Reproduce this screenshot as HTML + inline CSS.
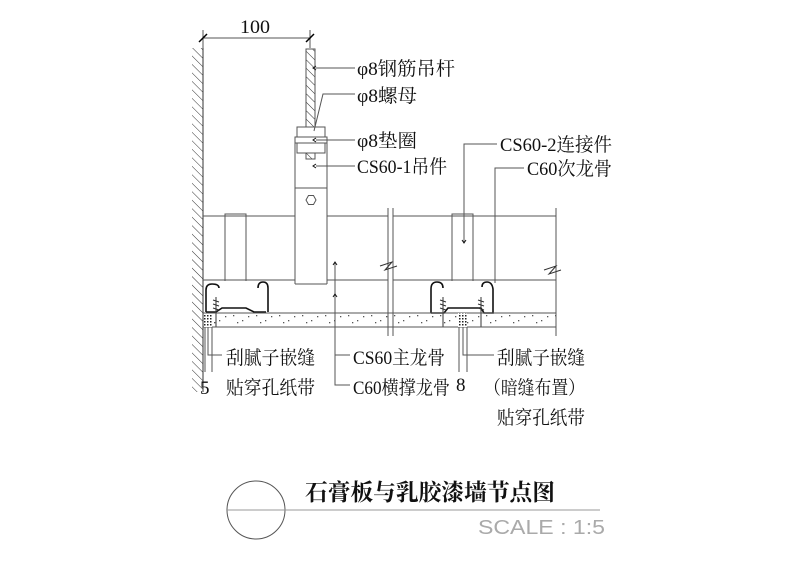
<!DOCTYPE html>
<html><head><meta charset="utf-8"><style>
html,body{margin:0;padding:0;background:#fff;}
svg{display:block}
text{font-family:"Liberation Serif","Noto Serif CJK SC","Noto Sans CJK SC",serif;fill:#111}
</style></head><body>
<svg width="800" height="565" viewBox="0 0 800 565" xmlns="http://www.w3.org/2000/svg">
<defs>
<pattern id="h" width="6" height="6" patternUnits="userSpaceOnUse" patternTransform="rotate(-45)">
<line x1="0" y1="0" x2="0" y2="6" stroke="#333" stroke-width="1"/></pattern>
<pattern id="d" width="3" height="3" patternUnits="userSpaceOnUse">
<rect width="3" height="3" fill="#fff"/><rect width="1.5" height="1.5" fill="#222"/></pattern>
<pattern id="sp" width="23" height="13" patternUnits="userSpaceOnUse">
<rect x="3" y="3" width="1.3" height="1.3" fill="#555"/><rect x="12" y="8" width="1.3" height="1.3" fill="#555"/><rect x="18" y="4" width="1.3" height="1.3" fill="#555"/><rect x="7" y="10" width="1.3" height="1.3" fill="#555"/></pattern>
</defs>
<g stroke="#555" stroke-width="1" fill="none">
<!-- wall -->
<line x1="203" y1="48" x2="203" y2="392" stroke="#333"/>
<rect x="192" y="48" width="11" height="344" fill="url(#h)" stroke="none"/>
<!-- dimension 100 -->
<line x1="203" y1="38" x2="311" y2="38"/>
<line x1="203" y1="30" x2="203" y2="48"/>
<line x1="310" y1="30" x2="310" y2="48"/>
<line x1="199" y1="42" x2="207" y2="34" stroke="#000" stroke-width="1.5"/>
<line x1="306" y1="42" x2="314" y2="34" stroke="#000" stroke-width="1.5"/>
<!-- rod -->
<rect x="306" y="49" width="9" height="88" fill="url(#h)"/>
<!-- nut & washer -->
<rect x="297" y="127" width="28" height="26" fill="#fff"/>
<rect x="295" y="137" width="32" height="6" fill="#fff"/>
<rect x="306" y="153" width="9" height="6" fill="url(#h)"/>
<!-- hanger -->
<line x1="295" y1="143" x2="295" y2="284"/>
<line x1="327" y1="143" x2="327" y2="284"/>
<line x1="295" y1="188" x2="327" y2="188"/>
<line x1="295" y1="284" x2="327" y2="284"/>
<polygon points="306,200 308.5,195.5 313.5,195.5 316,200 313.5,204.5 308.5,204.5"/>
<!-- board speckle -->
<rect x="212" y="314" width="344" height="12" fill="url(#sp)" stroke="none"/>
<!-- main runner lines -->
<line x1="203" y1="216" x2="295" y2="216"/>
<line x1="327" y1="216" x2="388" y2="216"/>
<line x1="393" y1="216" x2="556" y2="216"/>
<line x1="203" y1="280" x2="295" y2="280"/>
<line x1="327" y1="280" x2="388" y2="280"/>
<line x1="393" y1="280" x2="556" y2="280"/>
<!-- breaks -->
<line x1="388" y1="208" x2="388" y2="336"/>
<line x1="393" y1="208" x2="393" y2="336"/>
<polyline points="380,266 392,262 385,270 397,266" stroke="#333"/>
<line x1="556" y1="208" x2="556" y2="336"/>
<polyline points="544,270 556,266 549,274 561,270" stroke="#333"/>
<!-- C60 verticals -->
<polyline points="225,281 225,214 246,214 246,281"/>
<polyline points="452,281 452,214 473,214 473,281"/>
<!-- left channel -->
<path d="M206,312 L206,290 Q206,284 212,284 Q219,284 219,288 M206,312 L216,312 L222,308 L246,308 L254,312 L266,312" stroke="#111" stroke-width="1.6"/>
<path d="M258,288 Q258,282 263,282 Q268,282 268,288 L268,312" stroke="#111" stroke-width="1.6"/>
<!-- right channel -->
<path d="M431,313 L431,289 Q431,282 437,282 Q443,282 443,288" stroke="#111" stroke-width="1.6"/>
<path d="M431,313 L444,313 L448,308 L481,308 L484,313 L493,313 L493,289 Q492,282 487,282 Q482,282 482,287" stroke="#111" stroke-width="1.6"/>
<!-- screws -->
<g stroke="#333">
<line x1="216" y1="297" x2="216" y2="327"/><line x1="213" y1="300" x2="219" y2="302"/><line x1="213" y1="304" x2="219" y2="306"/><line x1="213" y1="308" x2="219" y2="310"/>
<line x1="443" y1="297" x2="443" y2="327"/><line x1="440" y1="300" x2="446" y2="302"/><line x1="440" y1="304" x2="446" y2="306"/><line x1="440" y1="308" x2="446" y2="310"/>
<line x1="481" y1="297" x2="481" y2="327"/><line x1="478" y1="300" x2="484" y2="302"/><line x1="478" y1="304" x2="484" y2="306"/><line x1="478" y1="308" x2="484" y2="310"/>
</g>
<!-- board -->
<line x1="203" y1="313" x2="556" y2="313"/>
<line x1="203" y1="327" x2="556" y2="327"/>
<rect x="204" y="314" width="8" height="13" fill="url(#d)" stroke="none"/>
<rect x="458" y="313" width="9" height="14" fill="url(#d)" stroke="none"/>
<!-- leaders top -->
<line x1="316" y1="68" x2="355" y2="68"/>
<polyline points="314,131 323,94 355,94"/>
<line x1="316" y1="140" x2="355" y2="140"/>
<line x1="316" y1="166" x2="355" y2="166"/>
<polyline points="464,242 464,144 497,144"/>
<polyline points="495,283 495,168 524,168"/>
<line x1="335" y1="263" x2="335" y2="327"/>
<!-- leaders bottom -->
<polyline points="208,327 208,355 222,355"/>
<line x1="205" y1="327" x2="205" y2="372"/>
<line x1="212" y1="327" x2="212" y2="372"/>
<polyline points="335,327 335,385 350,385"/>
<polyline points="335,355 350,355"/>
<polyline points="463,327 463,355 494,355"/>
<line x1="459" y1="327" x2="459" y2="372"/>
<line x1="467" y1="327" x2="467" y2="372"/>
<!-- title -->
<circle cx="256" cy="510" r="29"/>
<line x1="227" y1="510" x2="600" y2="510" stroke="#999"/>
</g>
<g fill="none" stroke="#111">
<path d="M316,66 l-3,2 l3,2"/>
<path d="M316,138 l-3,2 l3,2"/>
<path d="M316,164 l-3,2 l3,2"/>
<path d="M333,265 l2,-3 l2,3"/>
<path d="M333,297 l2,-3 l2,3"/>
<path d="M462,240 l2,3 l2,-3"/>
</g>
<g font-size="19" lengthAdjust="spacingAndGlyphs">
<text x="240" y="33" textLength="30" lengthAdjust="spacingAndGlyphs">100</text>
<text x="357" y="75" textLength="98" lengthAdjust="spacingAndGlyphs">φ8钢筋吊杆</text>
<text x="357" y="102" textLength="60" lengthAdjust="spacingAndGlyphs">φ8螺母</text>
<text x="357" y="147" textLength="60" lengthAdjust="spacingAndGlyphs">φ8垫圈</text>
<text x="357" y="173" textLength="90" lengthAdjust="spacingAndGlyphs">CS60-1吊件</text>
<text x="500" y="151" textLength="112" lengthAdjust="spacingAndGlyphs">CS60-2连接件</text>
<text x="527" y="175" textLength="85" lengthAdjust="spacingAndGlyphs">C60次龙骨</text>
<text x="226" y="364" textLength="89" lengthAdjust="spacingAndGlyphs">刮腻子嵌缝</text>
<text x="226" y="394" textLength="89" lengthAdjust="spacingAndGlyphs">贴穿孔纸带</text>
<text x="200" y="394">5</text>
<text x="353" y="364" textLength="92" lengthAdjust="spacingAndGlyphs">CS60主龙骨</text>
<text x="353" y="394" textLength="97" lengthAdjust="spacingAndGlyphs">C60横撑龙骨</text>
<text x="456" y="391">8</text>
<text x="497" y="364" textLength="88" lengthAdjust="spacingAndGlyphs">刮腻子嵌缝</text>
<text x="484" y="394" textLength="101" lengthAdjust="spacingAndGlyphs">（暗缝布置）</text>
<text x="497" y="424" textLength="88" lengthAdjust="spacingAndGlyphs">贴穿孔纸带</text>
</g>
<text x="305" y="500" font-size="23" textLength="250" lengthAdjust="spacingAndGlyphs" font-family="'Noto Sans CJK SC',sans-serif" font-weight="bold">石膏板与乳胶漆墙节点图</text>
<text x="478" y="534" font-size="20" textLength="127" lengthAdjust="spacingAndGlyphs" style="fill:#aaa;font-family:'Liberation Sans',sans-serif">SCALE :   1:5</text>
</svg>
</body></html>
